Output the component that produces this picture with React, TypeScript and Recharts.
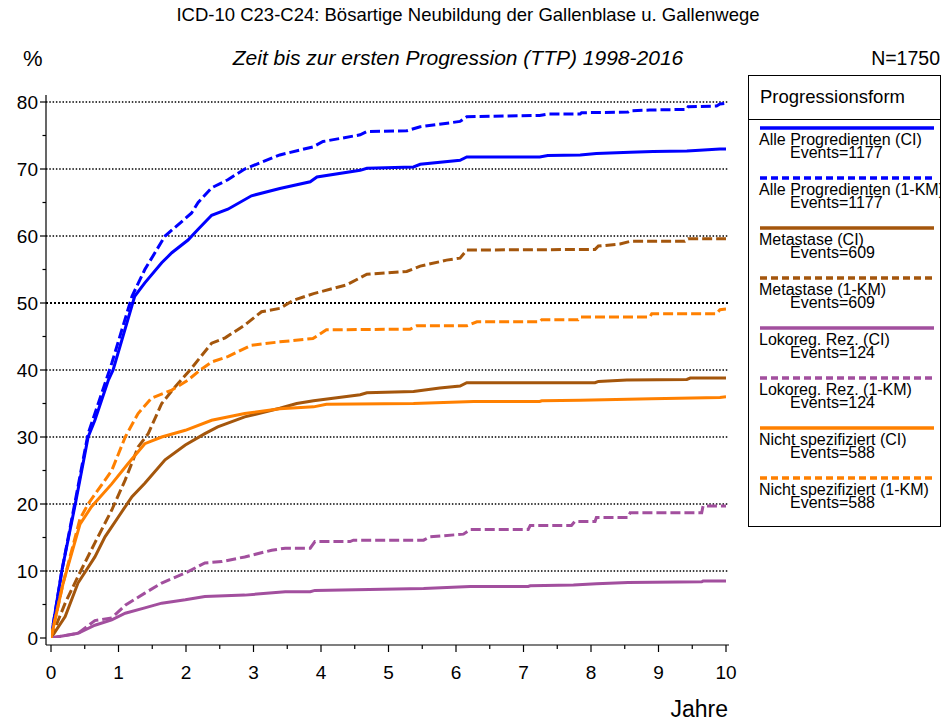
import React from 'react';
import { LineChart, Line, XAxis, YAxis, ReferenceLine } from 'recharts';

// time in years, cumulative progression in %
const allCi = [[0, 0], [0.16, 10], [0.36, 20], [0.55, 30], [0.65, 32.5], [0.85, 38.5], [0.92, 40], [1.24, 51], [1.39, 53], [1.64, 56], [1.79, 57.5], [2.03, 59.4], [2.18, 61], [2.38, 63.1], [2.62, 64], [2.97, 66], [3.39, 67.1], [3.84, 68.1], [3.94, 68.8], [4.58, 69.8], [4.68, 70.1], [5.37, 70.3], [5.47, 70.7], [6.06, 71.3], [6.16, 71.8], [7.24, 71.8], [7.36, 72], [7.84, 72.1], [8.08, 72.3], [8.58, 72.5], [8.92, 72.6], [9.42, 72.7], [9.61, 72.8], [9.91, 73], [10, 73]];
const allKm = [[0, 0], [0.16, 10], [0.36, 20.5], [0.55, 30.5], [0.9, 41], [1.2, 51], [1.39, 55], [1.69, 60], [2.08, 63.4], [2.18, 65], [2.38, 67.2], [2.62, 68.4], [2.87, 70], [3.39, 72.1], [3.88, 73.3], [4.03, 74.1], [4.58, 75.1], [4.68, 75.6], [5.27, 75.7], [5.47, 76.3], [6.06, 77.1], [6.16, 77.8], [7.24, 78], [7.36, 78.2], [7.84, 78.2], [7.86, 78.4], [8.55, 78.5], [8.58, 78.7], [8.87, 78.8], [9.42, 78.9], [9.44, 79.3], [9.86, 79.4], [9.91, 79.7], [10, 79.8]];
const metCi = [[0, 0], [0.21, 3.2], [0.4, 8.2], [0.65, 12.1], [0.8, 15.1], [1.0, 18.1], [1.2, 21.1], [1.39, 23.1], [1.69, 26.6], [1.99, 28.8], [2.28, 30.5], [2.47, 31.5], [2.87, 33], [3.39, 34.3], [3.64, 35], [3.89, 35.4], [4.58, 36.3], [4.68, 36.6], [5.37, 36.8], [5.76, 37.3], [6.06, 37.6], [6.16, 38.1], [8.06, 38.1], [8.11, 38.3], [8.53, 38.5], [9.42, 38.6], [9.47, 38.8], [10, 38.8]];
const metKm = [[0, 0], [0.21, 5.2], [0.4, 9.2], [0.65, 14.2], [0.9, 19.1], [1.1, 23.6], [1.29, 28.5], [1.44, 30.5], [1.64, 35], [1.84, 37.5], [2.06, 40], [2.38, 44], [2.58, 44.8], [2.87, 46.7], [3.12, 48.7], [3.39, 49.2], [3.59, 50.4], [3.89, 51.4], [4.38, 52.7], [4.68, 54.3], [5.27, 54.7], [5.47, 55.5], [5.86, 56.4], [6.06, 56.7], [6.16, 57.9], [8.06, 58], [8.11, 58.5], [8.43, 58.8], [8.58, 59.2], [9.39, 59.2], [9.44, 59.6], [10, 59.6]];
const lokCi = [[0, 0], [0.4, 0.7], [0.65, 1.9], [0.9, 2.7], [1.1, 3.7], [1.39, 4.5], [1.64, 5.2], [1.99, 5.7], [2.28, 6.2], [2.87, 6.4], [3.47, 6.9], [3.84, 6.9], [3.91, 7.1], [5.52, 7.4], [6.21, 7.7], [7.07, 7.7], [7.1, 7.8], [7.74, 7.9], [8.08, 8.1], [8.55, 8.3], [9.64, 8.4], [9.66, 8.5], [10, 8.5]];
const lokKm = [[0, 0], [0.4, 0.7], [0.65, 2.6], [0.9, 3], [1.1, 4.9], [1.39, 6.7], [1.64, 8.2], [1.99, 9.7], [2.28, 11.2], [2.53, 11.4], [2.87, 12.1], [3.27, 13.1], [3.47, 13.4], [3.84, 13.4], [3.91, 14.4], [4.43, 14.4], [4.48, 14.6], [5.52, 14.6], [5.61, 15.1], [6.11, 15.5], [6.21, 16.2], [7.07, 16.2], [7.1, 16.8], [7.71, 16.8], [7.76, 17.4], [8.06, 17.4], [8.08, 18], [8.55, 18], [8.58, 18.7], [9.64, 18.7], [9.66, 19.7], [10, 19.7]];
const nsCi = [[0, 0], [0.18, 8.2], [0.43, 17], [0.6, 19.6], [0.9, 23], [1.14, 26], [1.39, 29], [1.64, 30], [1.99, 31], [2.38, 32.5], [2.87, 33.5], [3.39, 34.2], [3.89, 34.5], [4.08, 34.9], [5.37, 35], [6.26, 35.3], [7.24, 35.3], [7.27, 35.4], [7.84, 35.5], [8.9, 35.7], [9.91, 35.9], [10, 36]];
const nsKm = [[0, 0], [0.18, 8.2], [0.43, 17.8], [0.55, 20], [0.9, 25], [1.1, 30], [1.29, 33.5], [1.49, 35.8], [1.79, 37], [2.03, 38.5], [2.21, 40], [2.38, 41.2], [2.62, 42], [2.97, 43.7], [3.39, 44.2], [3.88, 44.7], [4.08, 46], [5.32, 46.1], [5.42, 46.6], [6.16, 46.6], [6.31, 47.2], [7.24, 47.2], [7.27, 47.5], [7.81, 47.5], [7.84, 47.9], [8.87, 47.9], [8.9, 48.4], [9.86, 48.4], [9.91, 49], [10, 49.1]];

const seriesNames = [
  'Alle Progredienten (CI)', 'Alle Progredienten (1-KM)',
  'Metastase (CI)', 'Metastase (1-KM)',
  'Lokoreg. Rez. (CI)', 'Lokoreg. Rez. (1-KM)',
  'Nicht spezifiziert (CI)', 'Nicht spezifiziert (1-KM)',
];
const eventCounts = [1177, 1177, 609, 609, 124, 124, 588, 588];
const xTicks = [0, 0.5, 1, 1.5, 2, 2.5, 3, 3.5, 4, 4.5, 5, 5.5, 6, 6.5, 7, 7.5, 8, 8.5, 9, 9.5, 10];
const yTicks = [0, 5, 10, 15, 20, 25, 30, 35, 40, 45, 50, 55, 60, 65, 70, 75, 80];
const gridValues = [10, 20, 30, 40, 50, 60, 70, 80];

const colors = {
  blue: '#0000ff',
  brown: '#a4560c',
  purple: '#a24f9e',
  orange: '#ff8000',
};
const font = '"Liberation Sans", Arial, sans-serif';

const seriesData = [allCi, allKm, metCi, metKm, lokCi, lokKm, nsCi, nsKm];
const seriesColors = [colors.blue, colors.blue, colors.brown, colors.brown, colors.purple, colors.purple, colors.orange, colors.orange];
const toRows = (pairs) => pairs.map(([t, v]) => ({ t, v }));

const XTick = ({ x, y, payload }) => {
  const major = Number.isInteger(payload.value);
  return (
    <g>
      <line x1={x} x2={x} y1={y} y2={y + (major ? 7 : 4)} stroke="#000" strokeWidth={1.2} />
      {major && (
        <text x={x} y={y + 34} textAnchor="middle" fontSize={19} fontFamily={font} fill="#000">
          {payload.value}
        </text>
      )}
    </g>
  );
};

const YTick = ({ x, y, payload }) => {
  const major = payload.value % 10 === 0;
  return (
    <g>
      <line x1={x - (major ? 6 : 3.5)} x2={x} y1={y} y2={y} stroke="#000" strokeWidth={1.2} />
      {major && (
        <text x={x - 8} y={y + 7} textAnchor="end" fontSize={19} fontFamily={font} fill="#000">
          {payload.value}
        </text>
      )}
    </g>
  );
};

const LegendBox = () => {
  return (
    <div style={{
      position: 'absolute', left: 748, top: 75, width: 191, height: 450,
      border: '1.5px solid #000', overflow: 'hidden', fontFamily: font, background: '#fff',
    }}
    >
      <div style={{ position: 'absolute', left: 11, top: 10, fontSize: 18.5 }}>Progressionsform</div>
      <div style={{ position: 'absolute', left: 0, right: 0, top: 43, borderTop: '1px solid #000' }} />
      {seriesNames.map((name, i) => (
        <div key={name} style={{ position: 'absolute', left: 0, top: 49 + i * 50, width: 200, height: 48 }}>
          <svg width={191} height={6} style={{ position: 'absolute', left: 0, top: 0 }}>
            <line
              x1={11} x2={185} y1={3} y2={3}
              stroke={seriesColors[i]} strokeWidth={3.5}
              strokeDasharray={i % 2 ? '7 4' : undefined}
            />
          </svg>
          <div style={{ position: 'absolute', left: 10, top: 8, fontSize: 16, whiteSpace: 'nowrap', lineHeight: '14px' }}>{name}</div>
          <div style={{ position: 'absolute', left: 41, top: 21, fontSize: 16, whiteSpace: 'nowrap', lineHeight: '14px' }}>{`Events=${eventCounts[i]}`}</div>
        </div>
      ))}
    </div>
  );
};

const App = () => {
  return (
    <div style={{ position: 'absolute', left: 0, top: 0, width: 942, height: 726, background: '#fff', fontFamily: font }}>
      <div style={{ position: 'absolute', left: 0, width: 936, top: 4, textAlign: 'center', fontSize: 18.5 }}>
        ICD-10 C23-C24: Bösartige Neubildung der Gallenblase u. Gallenwege
      </div>
      <div style={{ position: 'absolute', left: 0, width: 916, top: 46, textAlign: 'center', fontSize: 21, fontStyle: 'italic' }}>
        Zeit bis zur ersten Progression (TTP) 1998-2016
      </div>
      <div style={{ position: 'absolute', left: 23, top: 46, fontSize: 22 }}>%</div>
      <div style={{ position: 'absolute', right: 2, top: 47, fontSize: 19.5 }}>N=1750</div>
      <div style={{ position: 'absolute', right: 214, top: 696, fontSize: 23 }}>Jahre</div>
      <LineChart width={942} height={726} margin={{ top: 95, right: 213, left: 6, bottom: 51 }}>
        <XAxis
          type="number" dataKey="t" domain={[0, 10]} ticks={xTicks} interval={0}
          padding={{ left: 5, right: 3 }} height={30} tickSize={0} tickMargin={0}
          tickLine={false} tick={<XTick />} stroke="#000" strokeWidth={1.2} allowDataOverflow
        />
        <YAxis
          type="number" dataKey="v" domain={[0, 80]} ticks={yTicks} interval={0}
          padding={{ top: 7, bottom: 7 }} width={40} tickSize={0} tickMargin={0}
          tickLine={false} tick={<YTick />} stroke="#000" strokeWidth={1.2} allowDataOverflow
        />
        {gridValues.map((g) => (
          <ReferenceLine key={g} y={g} stroke="#000" strokeWidth={g === 50 ? 2 : 1.3} strokeDasharray={g === 50 ? '2 2' : '1.5 1.8'} />
        ))}
        {seriesData.map((pairs, i) => (
          <Line
            key={seriesNames[i]}
            data={toRows(pairs)}
            dataKey="v"
            type="linear"
            stroke={seriesColors[i]}
            strokeWidth={3}
            strokeDasharray={i % 2 ? '10 4' : undefined}
            dot={false}
            activeDot={false}
            isAnimationActive={false}
          />
        ))}
      </LineChart>
      <LegendBox />
    </div>
  );
};

export default App;
